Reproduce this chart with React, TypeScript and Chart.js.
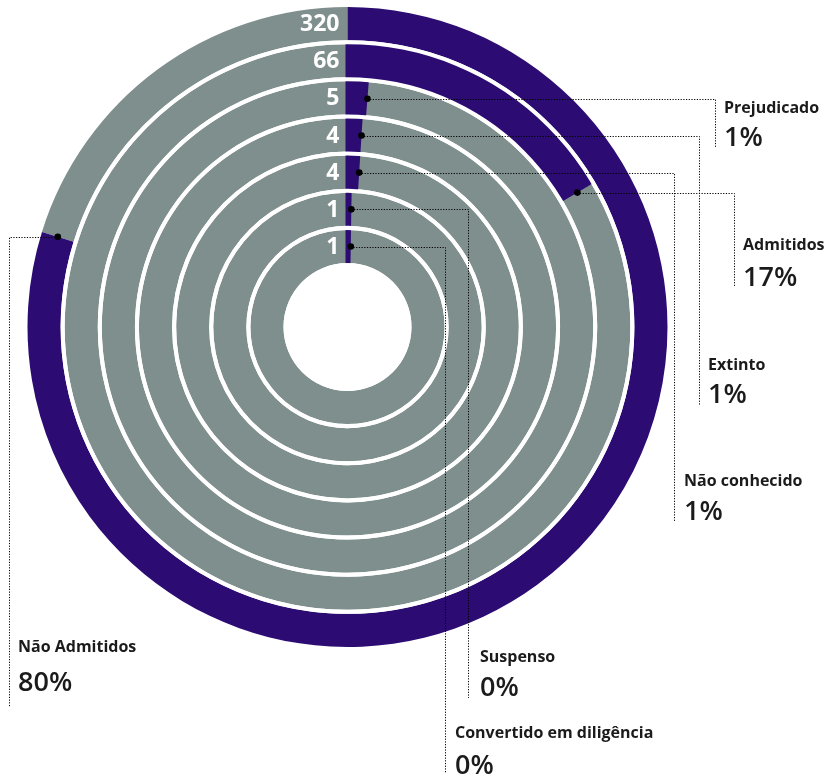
import React, { useEffect, useRef } from "react";
import { Chart, registerables } from "chart.js";

Chart.register(...registerables);

// Outer ring first
const categories = [
  "Não Admitidos",
  "Admitidos",
  "Prejudicado",
  "Extinto",
  "Não conhecido",
  "Suspenso",
  "Convertido em diligência",
];
const counts = [320, 66, 5, 4, 4, 1, 1];
const percentLabels = ["80%", "17%", "1%", "1%", "1%", "0%", "0%"];

const PURPLE = "#2c0c72";
const GRAY = "#7f8f8d";
const TEXT = "#1b1b1b";
const FONT = "'Open Sans', Lato, sans-serif";
const EDGE = 4; // purple edge stroke on the small arcs

// callout layout (per category): vertical leader x, leader bottom y, text x, name y, percent y
const callouts = [
  { lx: 9.5, ly: 707, tx: 18, ny: 647, py: 683 },
  { lx: 734.5, ly: 286, tx: 743, ny: 245, py: 278 },
  { lx: 715.5, ly: 147, tx: 724, ny: 108, py: 138 },
  { lx: 699.5, ly: 406, tx: 708, ny: 365, py: 395 },
  { lx: 674.5, ly: 521, tx: 684, ny: 481, py: 512 },
  { lx: 468.5, ly: 698, tx: 480, ny: 657, py: 688 },
  { lx: 445.5, ly: 773, tx: 455, ny: 733, py: 766 },
];

export default function App() {
  const ref = useRef<HTMLCanvasElement | null>(null);

  useEffect(() => {
    if (!ref.current) return;
    const total = counts.reduce((a, b) => a + b, 0);
    const datasets: any[] = [];
    const ringIndex: number[] = [];
    counts.forEach((v, i) => {
      if (i > 0) {
        datasets.push({
          data: [1],
          backgroundColor: ["#ffffff"],
          borderWidth: 0,
          weight: 0.121,
          order: -1,
        });
      }
      ringIndex.push(datasets.length);
      // gray remainder first, purple value second (drawn on top); rotation puts purple start at 12 o'clock
      datasets.push({
        label: categories[i],
        data: [total - v, v],
        backgroundColor: [GRAY, PURPLE],
        borderColor: [GRAY, PURPLE],
        borderWidth: i === 0 ? 0 : [0, EDGE],
        borderJoinStyle: "miter",
        rotation: (v / total) * 360,
        weight: 1,
        order: 0,
      });
    });
    // thin white inner edge around the hole
    datasets.push({
      data: [1],
      backgroundColor: ["#ffffff"],
      borderWidth: 0,
      weight: 0.06,
      order: -1,
    });

    const calloutPlugin = {
      id: "callouts",
      afterDraw(chart: any) {
        const ctx = chart.ctx;
        ctx.save();
        ringIndex.forEach((dsIdx, i) => {
          const arc: any = chart.getDatasetMeta(dsIdx).data[1];
          const midR = (arc.innerRadius + arc.outerRadius) / 2;
          // ring number label
          ctx.fillStyle = "#ffffff";
          ctx.font = `bold 23px ${FONT}`;
          ctx.textAlign = "right";
          ctx.textBaseline = "middle";
          ctx.fillText(String(counts[i]), arc.x - 8, arc.y - midR + 1);

          // dot at end of purple arc
          const extra = i === 0 ? 0 : EDGE / 2 / midR;
          const ang = arc.endAngle + extra;
          const dx = arc.x + midR * Math.cos(ang);
          const dy = arc.y + midR * Math.sin(ang);
          const c = callouts[i];
          ctx.strokeStyle = "#000";
          ctx.lineWidth = 1;
          ctx.setLineDash([1.2, 1.5]);
          ctx.beginPath();
          const ry = Math.round(dy) + 0.5;
          ctx.moveTo(dx, ry);
          ctx.lineTo(c.lx, ry);
          ctx.lineTo(c.lx, c.ly);
          ctx.stroke();
          ctx.setLineDash([]);
          ctx.fillStyle = "#000";
          ctx.beginPath();
          ctx.arc(dx, dy, 3.3, 0, Math.PI * 2);
          ctx.fill();

          // texts
          ctx.textAlign = "left";
          ctx.fillStyle = TEXT;
          ctx.font = `bold 16px ${FONT}`;
          ctx.fillText(categories[i], c.tx, c.ny);
          ctx.font = `600 27px ${FONT}`;
          ctx.fillText(percentLabels[i], c.tx, c.py);
        });
        ctx.restore();
      },
    };

    const chart = new Chart(ref.current, {
      type: "doughnut",
      data: { labels: ["rest", "value"], datasets },
      options: {
        responsive: false,
        animation: false,
        cutout: 62,
        layout: { padding: { left: 27.5, right: 166.5, top: 7, bottom: 136 } },
        events: [],
        plugins: { legend: { display: false }, tooltip: { enabled: false } },
      } as any,
      plugins: [calloutPlugin],
    });
    return () => chart.destroy();
  }, []);

  return (
    <canvas
      ref={ref}
      width={834}
      height={783}
      style={{ position: "absolute", left: 0, top: 0 }}
    />
  );
}
